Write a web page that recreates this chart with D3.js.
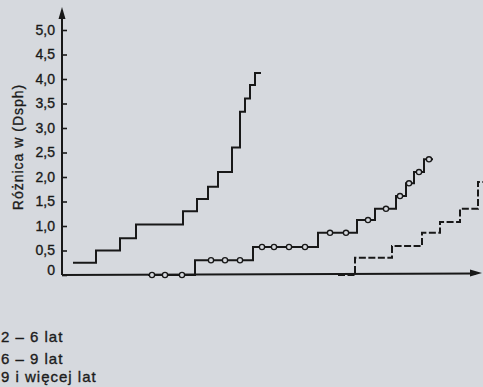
<!DOCTYPE html>
<html>
<head>
<meta charset="utf-8">
<script src="https://cdn.jsdelivr.net/npm/d3@7"></script>
<style>
  html, body { margin: 0; padding: 0; background: #d6d9de; }
  svg { display: block; }
  text { font-family: "Liberation Sans", "DejaVu Sans", sans-serif; fill: #1c1c1c; stroke: #1c1c1c; stroke-width: 0.35px; }
</style>
</head>
<body>
<div id="chart"></div>
<script>
// step edges (x, arbitrary units along the time axis) and levels (Dsph)
const series1X = [1.1, 3.4, 5.8, 7.4, 12.1, 13.5, 14.6, 15.6, 17.0, 17.8, 18.3, 18.8, 19.3, 19.9];
const series1Y = [0.25, 0.5, 0.75, 1.03, 1.3, 1.55, 1.8, 2.1, 2.6, 3.33, 3.6, 3.88, 4.12, 4.12];

const series2X = [8.6, 13.3, 19.1, 25.6, 29.5, 31.3, 33.4, 34.4, 35.2, 36.2, 37.1];
const series2Y = [0, 0.3, 0.57, 0.86, 1.12, 1.35, 1.61, 1.87, 2.1, 2.36, 2.36];
const series2Markers = [9.0, 10.3, 12.0, 14.9, 16.3, 17.8, 20.0, 21.2, 22.7, 24.3, 26.8, 28.4, 30.6, 32.4, 33.8, 34.7, 35.7, 36.7];

const series3X = [27.6, 29.3, 33.0, 36.0, 37.8, 39.8, 41.6, 43.8];
const series3Y = [0, 0.35, 0.59, 0.86, 1.08, 1.35, 1.9, 1.9];

const yTicks = [0, 0.5, 1, 1.5, 2, 2.5, 3, 3.5, 4, 4.5, 5];
const legendLabels = ["2 – 6 lat", "6 – 9 lat", "9 i więcej lat"];
const yLabel = "Różnica w (Dsph)";

const width = 483, height = 387;
const ink = "#181818";
const paper = "#d6d9de";

const svg = d3.select("#chart").append("svg")
  .attr("width", width)
  .attr("height", height);

const x = d3.scaleLinear().domain([0, 42]).range([62, 482]);
const y = d3.scaleLinear().domain([0, 5]).range([275, 30]);

// Y axis with inner ticks and comma decimals
const yAxis = svg.append("g")
  .attr("transform", `translate(${x(0)},0)`)
  .call(d3.axisLeft(y)
    .tickValues(yTicks)
    .tickSize(-5)
    .tickPadding(7)
    .tickFormat(d => d === 0 ? "0" : d3.format(".1f")(d).replace(".", ",")));
yAxis.select(".domain").remove();
yAxis.selectAll(".tick line").attr("stroke", ink).attr("stroke-width", 1.6);
yAxis.selectAll("text")
  .style("font-size", "14px")
  .style("fill", ink)
  .attr("dy", d => d === 0 ? "-0.05em" : "0.32em");

// axis lines with arrow heads
svg.append("line")
  .attr("x1", x(0)).attr("x2", x(0))
  .attr("y1", y(0)).attr("y2", 12)
  .attr("stroke", ink).attr("stroke-width", 2);
svg.append("path")
  .attr("d", `M${x(0)},7 L${x(0) - 3.5},19 L${x(0) + 3.5},19 Z`)
  .attr("fill", ink);

svg.append("line")
  .attr("x1", x(0)).attr("x2", x(42) - 6)
  .attr("y1", y(0)).attr("y2", y(0) - 1.5)
  .attr("stroke", ink).attr("stroke-width", 2);
svg.append("path")
  .attr("d", `M${x(42)},${y(0) - 2} L${x(42) - 12},${y(0) - 5.5} L${x(42) - 12},${y(0) + 1.5} Z`)
  .attr("fill", ink);

// Y axis label
svg.append("text")
  .attr("transform", `translate(23,${147}) rotate(-90)`)
  .attr("text-anchor", "middle")
  .style("font-size", "14px")
  .style("letter-spacing", "1px")
  .text(yLabel);

const stepLine = (xs, ys) => d3.line()
  .x((d, i) => x(xs[i]))
  .y(d => y(d))
  .curve(d3.curveStepAfter)(ys);

// 2-6 lat: solid
svg.append("path")
  .attr("d", stepLine(series1X, series1Y))
  .attr("fill", "none")
  .attr("stroke", ink)
  .attr("stroke-width", 2);

// 6-9 lat: solid with open circles
svg.append("path")
  .attr("d", stepLine(series2X, series2Y))
  .attr("fill", "none")
  .attr("stroke", ink)
  .attr("stroke-width", 2);

svg.selectAll(".marker")
  .data(series2Markers)
  .enter().append("circle")
  .attr("class", "marker")
  .attr("cx", d => x(d))
  .attr("cy", d => y(series2Y[d3.bisectRight(series2X, d) - 1]))
  .attr("r", 2.6)
  .attr("fill", paper)
  .attr("stroke", ink)
  .attr("stroke-width", 1.3);

// 9+ lat: dashed
svg.append("path")
  .attr("d", stepLine(series3X, series3Y))
  .attr("fill", "none")
  .attr("stroke", ink)
  .attr("stroke-width", 2)
  .attr("stroke-dasharray", "7,2.5");

// legend text (symbols fall outside the crop)
svg.selectAll(".legend")
  .data(legendLabels)
  .enter().append("text")
  .attr("class", "legend")
  .attr("x", 1)
  .attr("y", (d, i) => [342, 364, 382][i])
  .style("font-size", "15px")
  .style("letter-spacing", "1px")
  .text(d => d);
</script>
</body>
</html>
